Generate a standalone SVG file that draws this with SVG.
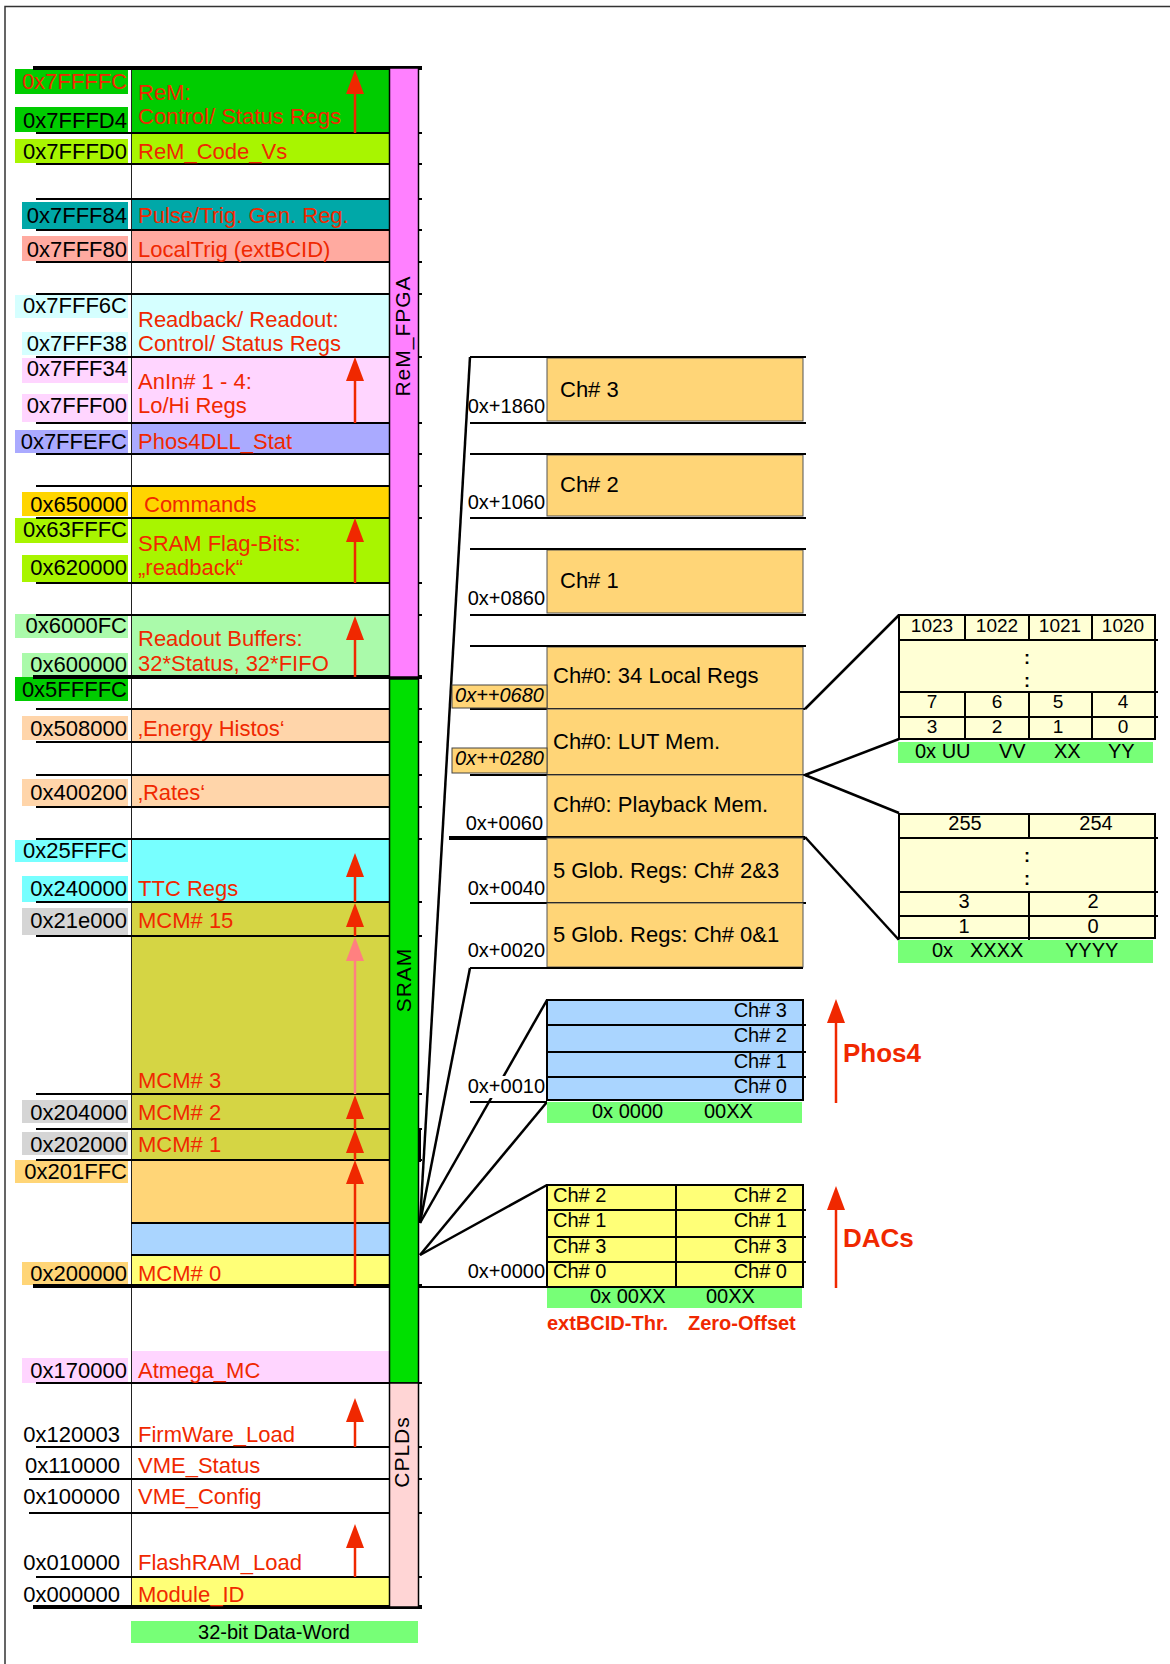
<svg xmlns="http://www.w3.org/2000/svg" width="1170" height="1664" viewBox="0 0 1170 1664">
<style>
text{font-family:"Liberation Sans",Arial,sans-serif}
.a{font-size:22px;text-anchor:end;fill:#000}
.c{font-size:22px;fill:#F02800}
.b{font-size:22px;fill:#000}
.o{font-size:20px;text-anchor:end;fill:#000}
.s{font-size:20px;fill:#000}
.se{font-size:20px;fill:#000;text-anchor:end}
.m{font-size:20px;fill:#000;text-anchor:middle}
.n{font-size:19px;fill:#000;text-anchor:middle}
.dot{font-size:18px;font-weight:bold;fill:#000;text-anchor:middle}
.it{font-size:20px;font-style:italic;text-anchor:end;fill:#000}
.bold{font-weight:bold;fill:#F02800}
.vt{font-size:21px;letter-spacing:1px;text-anchor:middle;fill:#000}
.hl{stroke:#000;stroke-width:2;fill:none}
.th{stroke:#000;stroke-width:4;fill:none}
.ar{stroke:#F02800;stroke-width:2.5;fill:none;marker-end:url(#ah)}
.arp{stroke:#FF8080;stroke-width:2.5;fill:none;marker-end:url(#ahp)}
.cn{stroke:#000;stroke-width:2.5;fill:none}
.box{stroke:#555;stroke-width:1}
.grn{fill:#77FF77}
</style>
<defs>
<marker id="ah" markerUnits="userSpaceOnUse" markerWidth="24" markerHeight="18" viewBox="0 0 24 18" refX="14" refY="9" orient="auto"><path d="M0,0L24,9L0,18z" fill="#F02800"/></marker>
<marker id="ahp" markerUnits="userSpaceOnUse" markerWidth="24" markerHeight="18" viewBox="0 0 24 18" refX="14" refY="9" orient="auto"><path d="M0,0L24,9L0,18z" fill="#FF8080"/></marker>
</defs>
<rect width="1170" height="1664" fill="#fff"/>
<path d="M5,1664V6.5H1170" stroke="#333" stroke-width="1.5" fill="none"/>

<g id="fills">
<rect x="131" y="68" width="258" height="65" fill="#00CC00"/>
<rect x="131" y="133" width="258" height="31" fill="#A8F500"/>
<rect x="131" y="199" width="258" height="31" fill="#00A8A8"/>
<rect x="131" y="230" width="258" height="32" fill="#FFAAA0"/>
<rect x="131" y="294" width="258" height="63" fill="#D5FFFF"/>
<rect x="131" y="357" width="258" height="66" fill="#FFD5FF"/>
<rect x="131" y="423" width="258" height="31" fill="#AAAAFF"/>
<rect x="131" y="486" width="258" height="32" fill="#FFD500"/>
<rect x="131" y="518" width="258" height="65" fill="#A8F500"/>
<rect x="131" y="615" width="258" height="62" fill="#AAFAAA"/>
<rect x="131" y="709" width="258" height="33" fill="#FFD5AA"/>
<rect x="131" y="775" width="258" height="32" fill="#FFD5AA"/>
<rect x="131" y="839" width="258" height="63" fill="#77FFFF"/>
<rect x="131" y="902" width="258" height="258" fill="#D5D544"/>
<rect x="131" y="1160" width="258" height="63" fill="#FFD577"/>
<rect x="131" y="1223" width="258" height="32" fill="#AAD5FF"/>
<rect x="131" y="1255" width="258" height="31" fill="#FFFF77"/>
<rect x="131" y="1351" width="258" height="32" fill="#FFD5FF"/>
<rect x="131" y="1577" width="258" height="30" fill="#FFFF77"/>
</g>

<g id="addr-bg">
<rect x="15" y="69" width="113" height="25" fill="#00CC00"/>
<rect x="15" y="107" width="113" height="25" fill="#00CC00"/>
<rect x="15" y="139" width="113" height="24" fill="#A8F500"/>
<rect x="22" y="202" width="106" height="27" fill="#00A8A8"/>
<rect x="22" y="236" width="106" height="25" fill="#FFAAA0"/>
<rect x="15" y="295" width="113" height="23" fill="#D5FFFF"/>
<rect x="22" y="332" width="106" height="23" fill="#D5FFFF"/>
<rect x="22" y="358" width="106" height="25" fill="#FFD5FF"/>
<rect x="22" y="394" width="106" height="28" fill="#FFD5FF"/>
<rect x="15" y="430" width="113" height="23" fill="#AAAAFF"/>
<rect x="22" y="492" width="106" height="24" fill="#FFD500"/>
<rect x="15" y="518" width="113" height="25" fill="#A8F500"/>
<rect x="22" y="555" width="106" height="27" fill="#A8F500"/>
<rect x="15" y="614" width="113" height="24" fill="#AAFAAA"/>
<rect x="22" y="653" width="106" height="24" fill="#AAFAAA"/>
<rect x="15" y="677" width="113" height="24" fill="#00CC00"/>
<rect x="22" y="716" width="106" height="24" fill="#FFD5AA"/>
<rect x="22" y="779" width="106" height="27" fill="#FFD5AA"/>
<rect x="15" y="840" width="113" height="22" fill="#77FFFF"/>
<rect x="22" y="876" width="106" height="26" fill="#77FFFF"/>
<rect x="22" y="908" width="106" height="27" fill="#D5D5D5"/>
<rect x="22" y="1100" width="106" height="23" fill="#D5D5D5"/>
<rect x="22" y="1132" width="106" height="23" fill="#D5D5D5"/>
<rect x="15" y="1160" width="113" height="23" fill="#FFD577"/>
<rect x="22" y="1262" width="106" height="23" fill="#FFD577"/>
<rect x="22" y="1358" width="106" height="25" fill="#FFD5FF"/>
</g>

<g id="grid">
<line x1="131.5" y1="68" x2="131.5" y2="1607" stroke="#222" stroke-width="1"/>
<path class="th" d="M33,68H422M33,677H422M33,1286H422M33,1607H422"/>
<path class="hl" d="M36,133H422M36,164H422M36,199H422M36,230H422M36,262H422M36,294H422M36,357H422M36,423H422M36,454H422M36,486H422M36,518H422M36,583H422M36,615H422M36,709H422M36,742H422M36,775H422M36,807H422M36,839H422M36,902H422M36,936H422M36,1094H422M36,1129H422M36,1160H422M131,1223H389M131,1255H389M36,1383H422M36,1447H422M29,1479H422M29,1513H422M36,1577H422"/>
</g>

<g id="bar-rem-fpga">
<rect x="389.5" y="68" width="29" height="609" fill="#FF80FF" stroke="#000" stroke-width="1.5"/>
<text class="vt" transform="translate(410,336) rotate(-90)">ReM_FPGA</text>
</g>
<g id="bar-sram">
<rect x="389.5" y="679" width="29" height="704" fill="#00E000" stroke="#000" stroke-width="1.5"/>
<text class="vt" transform="translate(411,980) rotate(-90)">SRAM</text>
</g>
<g id="bar-cplds">
<rect x="389.5" y="1383" width="29" height="224" fill="#FFD5D5" stroke="#000" stroke-width="1.5"/>
<text class="vt" transform="translate(409,1452) rotate(-90)">CPLDs</text>
</g>

<g id="row-rem-ctrl"><text class="a" x="127" y="89" style="fill:#F02800">0x7FFFFC</text><text class="a" x="127" y="128">0x7FFFD4</text><text class="c" x="138" y="100">ReM:</text><text class="c" x="138" y="124">Control/ Status Regs</text></g>
<g id="row-rem-code"><text class="a" x="127" y="159">0x7FFFD0</text><text class="c" x="138" y="159">ReM_Code_Vs</text></g>
<g id="row-pulse"><text class="a" x="127" y="223">0x7FFF84</text><text class="c" x="138" y="223">Pulse/Trig. Gen. Reg.</text></g>
<g id="row-localtrig"><text class="a" x="127" y="257">0x7FFF80</text><text class="c" x="138" y="257">LocalTrig (extBCID)</text></g>
<g id="row-readback"><text class="a" x="127" y="313">0x7FFF6C</text><text class="a" x="127" y="351">0x7FFF38</text><text class="c" x="138" y="327">Readback/ Readout:</text><text class="c" x="138" y="351">Control/ Status Regs</text></g>
<g id="row-anin"><text class="a" x="127" y="376">0x7FFF34</text><text class="a" x="127" y="413">0x7FFF00</text><text class="c" x="138" y="389">AnIn# 1 - 4:</text><text class="c" x="138" y="413">Lo/Hi Regs</text></g>
<g id="row-phos4dll"><text class="a" x="127" y="449">0x7FFEFC</text><text class="c" x="138" y="449">Phos4DLL_Stat</text></g>
<g id="row-commands"><text class="a" x="127" y="512">0x650000</text><text class="c" x="144" y="512">Commands</text></g>
<g id="row-flagbits"><text class="a" x="127" y="537">0x63FFFC</text><text class="a" x="127" y="575">0x620000</text><text class="c" x="138" y="551">SRAM Flag-Bits:</text><text class="c" x="138" y="575">„readback“</text></g>
<g id="row-readout"><text class="a" x="127" y="633">0x6000FC</text><text class="a" x="127" y="672">0x600000</text><text class="c" x="138" y="646">Readout Buffers:</text><text class="c" x="138" y="671">32*Status, 32*FIFO</text></g>
<g id="row-5ffffc"><text class="a" x="127" y="697">0x5FFFFC</text></g>
<g id="row-energy"><text class="a" x="127" y="736">0x508000</text><text class="c" x="138" y="736">‚Energy Histos‘</text></g>
<g id="row-rates"><text class="a" x="127" y="800">0x400200</text><text class="c" x="138" y="800">‚Rates‘</text></g>
<g id="row-ttc"><text class="a" x="127" y="858">0x25FFFC</text><text class="a" x="127" y="896">0x240000</text><text class="c" x="138" y="896">TTC Regs</text></g>
<g id="row-mcm15"><text class="a" x="127" y="928">0x21e000</text><text class="c" x="138" y="928">MCM# 15</text></g>
<g id="row-mcm3"><text class="c" x="138" y="1088">MCM# 3</text></g>
<g id="row-mcm2"><text class="a" x="127" y="1120">0x204000</text><text class="c" x="138" y="1120">MCM# 2</text></g>
<g id="row-mcm1"><text class="a" x="127" y="1152">0x202000</text><text class="c" x="138" y="1152">MCM# 1</text></g>
<g id="row-mcm0"><text class="a" x="127" y="1179">0x201FFC</text><text class="a" x="127" y="1281">0x200000</text><text class="c" x="138" y="1281">MCM# 0</text></g>
<g id="row-atmega"><text class="a" x="127" y="1378">0x170000</text><text class="c" x="138" y="1378">Atmega_MC</text></g>
<g id="row-firmware"><text class="a" x="120" y="1442">0x120003</text><text class="c" x="138" y="1442">FirmWare_Load</text></g>
<g id="row-vmestatus"><text class="a" x="120" y="1473">0x110000</text><text class="c" x="138" y="1473">VME_Status</text></g>
<g id="row-vmeconfig"><text class="a" x="120" y="1504">0x100000</text><text class="c" x="138" y="1504">VME_Config</text></g>
<g id="row-flashram"><text class="a" x="120" y="1570">0x010000</text><text class="c" x="138" y="1570">FlashRAM_Load</text></g>
<g id="row-moduleid"><text class="a" x="120" y="1602">0x000000</text><text class="c" x="138" y="1602">Module_ID</text></g>
<g id="dataword"><rect x="131" y="1621" width="287" height="22" class="grn"/><text class="m" x="274" y="1639">32-bit Data-Word</text></g>

<g id="left-arrows">
<line class="ar" x1="355" y1="133" x2="355" y2="80"/>
<line class="ar" x1="355" y1="423" x2="355" y2="367"/>
<line class="ar" x1="355" y1="583" x2="355" y2="528"/>
<line class="ar" x1="355" y1="677" x2="355" y2="626"/>
<line class="ar" x1="355" y1="902" x2="355" y2="863"/>
<line class="ar" x1="355" y1="936" x2="355" y2="913"/>
<line class="arp" x1="355" y1="1094" x2="355" y2="947"/>
<line class="ar" x1="355" y1="1129" x2="355" y2="1105"/>
<line class="ar" x1="355" y1="1160" x2="355" y2="1139"/>
<line class="ar" x1="355" y1="1286" x2="355" y2="1170"/>
<line class="ar" x1="355" y1="1447" x2="355" y2="1408"/>
<line class="ar" x1="355" y1="1577" x2="355" y2="1534"/>
</g>

<g id="connectors">
<line class="cn" x1="470" y1="357" x2="420" y2="1223"/>
<line class="cn" x1="470" y1="968" x2="420" y2="1223"/>
<line class="cn" x1="547" y1="1000" x2="420" y2="1223"/>
<line class="cn" x1="547" y1="1102" x2="420" y2="1255"/>
<line class="cn" x1="547" y1="1185" x2="420" y2="1255"/>
<line class="hl" x1="420" y1="1287" x2="547" y2="1287"/>
<line class="hl" x1="420" y1="1129" x2="420" y2="1162"/>
<line class="cn" x1="805" y1="709" x2="899" y2="615"/>
<line class="cn" x1="805" y1="775" x2="899" y2="739"/>
<line class="cn" x1="805" y1="775" x2="899" y2="813"/>
<line class="cn" x1="805" y1="837" x2="899" y2="940"/>
</g>

<g id="ch3"><rect class="box" x="547" y="358" width="256" height="63" fill="#FFD577"/><path class="hl" d="M470,357H806M470,423H806"/><text class="b" x="560" y="397">Ch# 3</text><text class="o" x="545" y="413">0x+1860</text></g>
<g id="ch2"><rect class="box" x="547" y="455" width="256" height="61" fill="#FFD577"/><path class="hl" d="M470,454H806M470,518H806"/><text class="b" x="560" y="492">Ch# 2</text><text class="o" x="545" y="509">0x+1060</text></g>
<g id="ch1"><rect class="box" x="547" y="550" width="256" height="63" fill="#FFD577"/><path class="hl" d="M470,549H806M470,615H806"/><text class="b" x="560" y="588">Ch# 1</text><text class="o" x="545" y="605">0x+0860</text></g>
<g id="ch0-local"><rect class="box" x="547" y="647" width="256" height="62" fill="#FFD577"/><path class="hl" d="M470,646H806M470,709H805"/><text class="b" x="553" y="683">Ch#0: 34 Local Regs</text><rect x="452" y="685" width="95" height="23" fill="#FFD577" stroke="#444" stroke-width="1"/><text class="it" x="544" y="702">0x++0680</text></g>
<g id="ch0-lut"><rect class="box" x="547" y="709" width="256" height="66" fill="#FFD577"/><path class="hl" d="M470,775H805"/><text class="b" x="553" y="749">Ch#0: LUT Mem.</text><rect x="452" y="748" width="95" height="25" fill="#FFD577" stroke="#444" stroke-width="1"/><text class="it" x="544" y="765">0x++0280</text></g>
<g id="ch0-playback"><rect class="box" x="547" y="775" width="256" height="63" fill="#FFD577"/><path class="th" d="M449,838H805"/><text class="b" x="553" y="812">Ch#0: Playback Mem.</text><text class="o" x="543" y="830">0x+0060</text></g>
<g id="glob23"><rect class="box" x="547" y="838" width="256" height="65" fill="#FFD577"/><path class="hl" d="M470,903H806"/><text class="b" x="553" y="878">5 Glob. Regs: Ch# 2&amp;3</text><text class="o" x="545" y="895">0x+0040</text></g>
<g id="glob01"><rect class="box" x="547" y="903" width="256" height="64" fill="#FFD577"/><path class="hl" d="M470,968H803"/><text class="b" x="553" y="942">5 Glob. Regs: Ch# 0&amp;1</text><text class="o" x="545" y="957">0x+0020</text></g>

<g id="phos4">
<rect x="547" y="1000" width="256" height="100" fill="#AAD5FF" stroke="#000" stroke-width="2"/>
<path class="hl" d="M547,1025H806M547,1052H806M547,1077H806M470,1102H547"/>
<text class="se" x="787" y="1017">Ch# 3</text><text class="se" x="787" y="1042">Ch# 2</text><text class="se" x="787" y="1068">Ch# 1</text><text class="se" x="787" y="1093">Ch# 0</text>
<rect x="547" y="1102" width="255" height="21" class="grn"/>
<text class="s" x="592" y="1118">0x 0000</text><text class="s" x="704" y="1118">00XX</text>
<rect x="466" y="1076" width="80" height="22" fill="#fff"/>
<text class="o" x="545" y="1093">0x+0010</text>
<line class="ar" x1="836" y1="1103" x2="836" y2="1009"/>
<text class="bold" x="843" y="1062" font-size="26">Phos4</text>
</g>

<g id="dacs">
<rect x="547" y="1185" width="256" height="102" fill="#FFFF77" stroke="#000" stroke-width="2"/>
<path class="hl" d="M547,1210H806M547,1237H806M547,1262H806M676,1185V1287"/>
<text class="s" x="553" y="1202">Ch# 2</text><text class="s" x="553" y="1227">Ch# 1</text><text class="s" x="553" y="1253">Ch# 3</text><text class="s" x="553" y="1278">Ch# 0</text>
<text class="se" x="787" y="1202">Ch# 2</text><text class="se" x="787" y="1227">Ch# 1</text><text class="se" x="787" y="1253">Ch# 3</text><text class="se" x="787" y="1278">Ch# 0</text>
<rect x="547" y="1288" width="255" height="20" class="grn"/>
<text class="s" x="590" y="1303">0x 00XX</text><text class="s" x="706" y="1303">00XX</text>
<text class="o" x="545" y="1278">0x+0000</text>
<text class="bold" x="547" y="1330" font-size="20">extBCID-Thr.</text>
<text class="bold" x="688" y="1330" font-size="20">Zero-Offset</text>
<line class="ar" x1="836" y1="1288" x2="836" y2="1196"/>
<text class="bold" x="843" y="1247" font-size="26">DACs</text>
</g>

<g id="lut-detail">
<rect x="899" y="615" width="256" height="124" fill="#FFFFD5" stroke="#000" stroke-width="2"/>
<path class="hl" d="M899,640H1158M899,692H1158M899,717H1158M965,615V640M1029,615V640M1092,615V640M965,692V739M1029,692V739M1092,692V739"/>
<text class="n" x="932" y="632">1023</text><text class="n" x="997" y="632">1022</text><text class="n" x="1060" y="632">1021</text><text class="n" x="1123" y="632">1020</text>
<text class="dot" x="1027" y="664">:</text><text class="dot" x="1027" y="687">:</text>
<text class="n" x="932" y="708">7</text><text class="n" x="997" y="708">6</text><text class="n" x="1058" y="708">5</text><text class="n" x="1123" y="708">4</text>
<text class="n" x="932" y="733">3</text><text class="n" x="997" y="733">2</text><text class="n" x="1058" y="733">1</text><text class="n" x="1123" y="733">0</text>
<rect x="898" y="742" width="255" height="21" class="grn"/>
<text class="s" x="915" y="758">0x UU</text><text class="s" x="999" y="758">VV</text><text class="s" x="1054" y="758">XX</text><text class="s" x="1108" y="758">YY</text>
</g>

<g id="playback-detail">
<rect x="899" y="814" width="256" height="124" fill="#FFFFD5" stroke="#000" stroke-width="2"/>
<path class="hl" d="M899,838H1158M899,892H1158M899,916H1158M1029,814V838M1029,892V940"/>
<text class="m" x="965" y="830">255</text><text class="m" x="1096" y="830">254</text>
<text class="dot" x="1027" y="862">:</text><text class="dot" x="1027" y="885">:</text>
<text class="m" x="964" y="908">3</text><text class="m" x="1093" y="908">2</text>
<text class="m" x="964" y="933">1</text><text class="m" x="1093" y="933">0</text>
<rect x="898" y="940" width="255" height="23" class="grn"/>
<text class="s" x="932" y="957">0x</text><text class="s" x="970" y="957">XXXX</text><text class="s" x="1065" y="957">YYYY</text>
</g>
</svg>
